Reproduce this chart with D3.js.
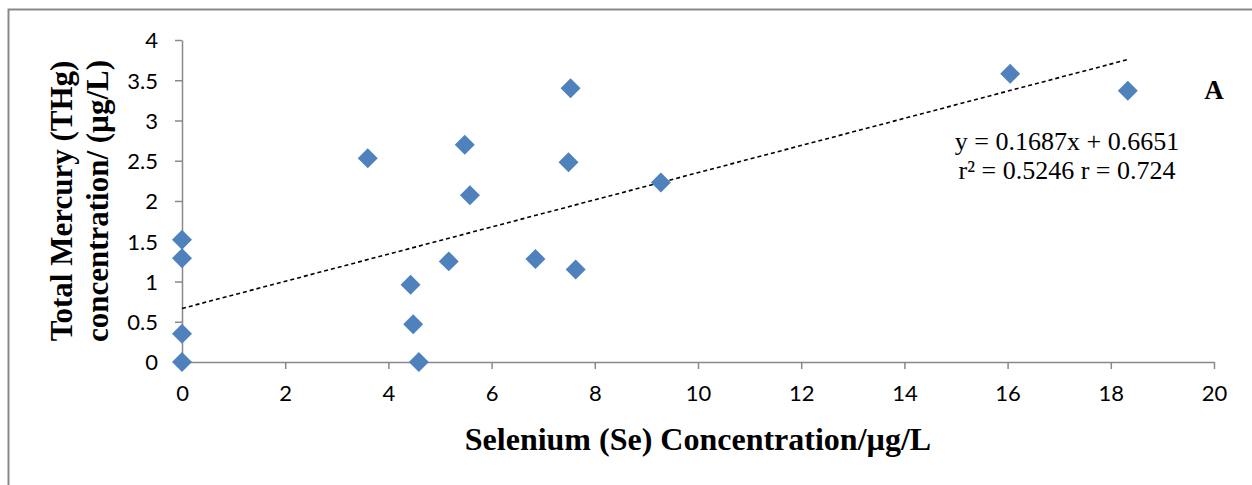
<!DOCTYPE html>
<html>
<head>
<meta charset="utf-8">
<script src="https://cdn.jsdelivr.net/npm/d3@7"></script>
<style>
  body { margin: 0; background: #fff; }
  svg { display: block; }
</style>
</head>
<body>
<div id="chart"></div>
<script>
// Se (x) vs THg (y)
const seValues = [0, 0, 0, 0, 3.6, 4.43, 4.48, 4.59, 5.17, 5.48, 5.58, 6.85, 7.53, 7.49, 7.63, 9.28, 16.05, 18.33];
const hgValues = [0, 0.35, 1.29, 1.52, 2.53, 0.96, 0.47, 0, 1.25, 2.70, 2.07, 1.28, 3.40, 2.48, 1.15, 2.23, 3.58, 3.37];
const xTicks = [0, 2, 4, 6, 8, 10, 12, 14, 16, 18, 20];
const yTicks = [0, 0.5, 1, 1.5, 2, 2.5, 3, 3.5, 4];
const slope = 0.1687, intercept = 0.6651;
const trendRange = [0, 18.33];
const eqLines = ["y = 0.1687x + 0.6651", "r² = 0.5246 r = 0.724"];

const W = 1252, H = 485;
const plot = {left: 182, right: 1214, top: 40, bottom: 362};

const svg = d3.select("#chart").append("svg")
  .attr("width", W).attr("height", H);

// chart border (only top/left visible in the crop)
svg.append("rect")
  .attr("x", 8.5).attr("y", 9.5)
  .attr("width", W + 20).attr("height", H + 20)
  .attr("fill", "none").attr("stroke", "#898989").attr("stroke-width", 2);

const x = d3.scaleLinear().domain([0, 20]).range([plot.left, plot.right]);
const y = d3.scaleLinear().domain([0, 4]).range([plot.bottom, plot.top]);

const axisColor = "#898989";
const tickFont = "Lato, 'Open Sans', sans-serif";

// x axis
const gx = svg.append("g")
  .attr("transform", "translate(0," + plot.bottom + ")")
  .call(d3.axisBottom(x).tickValues(xTicks).tickSizeInner(7).tickSizeOuter(0).tickPadding(16));
// y axis
const gy = svg.append("g")
  .attr("transform", "translate(" + plot.left + ",0)")
  .call(d3.axisLeft(y).tickValues(yTicks).tickSizeInner(7).tickSizeOuter(0).tickPadding(17)
    .tickFormat(d => String(d)));

[gx, gy].forEach(g => {
  g.select(".domain").attr("stroke", axisColor).attr("stroke-width", 1.5);
  g.selectAll(".tick line").attr("stroke", axisColor).attr("stroke-width", 1.5);
  g.selectAll(".tick text")
    .attr("fill", "#000")
    .style("font-family", tickFont)
    .style("font-size", "22px");
});
gy.selectAll(".tick text").attr("dy", "0.36em");

// trend line
svg.append("line")
  .attr("x1", x(trendRange[0])).attr("y1", y(slope * trendRange[0] + intercept))
  .attr("x2", x(trendRange[1])).attr("y2", y(slope * trendRange[1] + intercept))
  .attr("stroke", "#000").attr("stroke-width", 1.6)
  .attr("stroke-dasharray", "4,3");

// points
const pts = seValues.map((v, i) => ({se: v, hg: hgValues[i]}));
svg.selectAll(".pt")
  .data(pts)
  .enter().append("path")
  .attr("class", "pt")
  .attr("d", d3.symbol(d3.symbolSquare, 200)())
  .attr("transform", d => "translate(" + x(d.se) + "," + y(d.hg) + ") rotate(45)")
  .attr("fill", "#4F81BD");

// equation
svg.append("text")
  .attr("x", 1067).attr("y", 150)
  .attr("text-anchor", "middle")
  .style("font-family", "'Liberation Serif', 'Times New Roman', serif")
  .style("font-size", "26px")
  .selectAll("tspan")
  .data(eqLines)
  .enter().append("tspan")
  .attr("x", 1067)
  .attr("dy", (d, i) => i === 0 ? 0 : 29)
  .text(d => d);

// panel letter
svg.append("text")
  .attr("x", 1214).attr("y", 99)
  .attr("text-anchor", "middle")
  .style("font-family", "'Liberation Serif', 'Times New Roman', serif")
  .style("font-weight", "bold")
  .style("font-size", "27px")
  .text("A");

// x title
svg.append("text")
  .attr("x", 698).attr("y", 450)
  .attr("text-anchor", "middle")
  .style("font-family", "'Liberation Serif', 'Times New Roman', serif")
  .style("font-weight", "bold")
  .style("font-size", "32px")
  .text("Selenium (Se) Concentration/µg/L");

// y title, two lines
const yTitle = ["Total Mercury (THg)", "concentration/ (µg/L)"];
svg.append("g")
  .selectAll("text")
  .data(yTitle)
  .enter().append("text")
  .attr("transform", (d, i) => "translate(" + (72 + i * 36) + "," + ((plot.top + plot.bottom) / 2) + ") rotate(-90)")
  .attr("text-anchor", "middle")
  .style("font-family", "'Liberation Serif', 'Times New Roman', serif")
  .style("font-weight", "bold")
  .style("font-size", "31px")
  .text(d => d);
</script>
</body>
</html>
